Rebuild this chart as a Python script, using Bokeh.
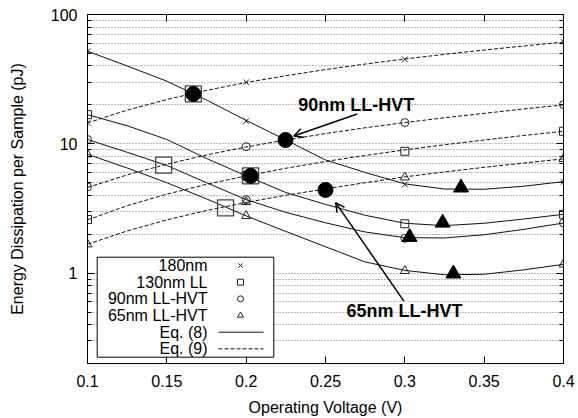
from math import log10
from bokeh.plotting import figure
from bokeh.models import (Range1d, FixedTicker, NumeralTickFormatter, LinearAxis,
                          LogAxis, Arrow, OpenHead)
from bokeh.core.properties import value
from bokeh.embed import file_html
from bokeh.resources import INLINE

# ---------------- data ----------------
x_ticks = [0.1, 0.15, 0.2, 0.25, 0.3, 0.35, 0.4]
y_ticks = [1, 10, 100]

# model curves: Eq. (8) solid, Eq. (9) dashed
curve_v = [0.1, 0.125, 0.15, 0.175, 0.2, 0.225, 0.25, 0.275, 0.3, 0.325, 0.35, 0.375, 0.4]
e180_eq8 = [52, 40, 30.5, 21.8, 15.2, 10.7, 7.5, 6.0, 4.9, 4.47, 4.45, 4.7, 5.1]
e180_eq9 = [14.5, 18.2, 22.0, 25.9, 29.8, 33.6, 37.5, 41.4, 45.3, 49.2, 53.1, 57.1, 61.2]
e130_eq8 = [16.8, 13.8, 10.8, 7.7, 5.65, 4.2, 3.4, 2.8, 2.43, 2.33, 2.43, 2.62, 2.85]
e130_eq9 = [2.58, 3.32, 4.08, 4.86, 5.65, 6.47, 7.3, 8.13, 8.97, 9.83, 10.7, 11.6, 12.5]
e90_eq8 = [10.8, 8.6, 6.8, 5.0, 3.7, 2.95, 2.45, 2.08, 1.88, 1.87, 1.98, 2.18, 2.44]
e90_eq9 = [4.6, 5.75, 6.95, 8.2, 9.45, 10.7, 12.0, 13.3, 14.6, 15.9, 17.2, 18.6, 20.0]
e65_eq8 = [8.3, 6.5, 5.0, 3.75, 2.77, 2.1, 1.6, 1.22, 1.05, 0.97, 0.98, 1.06, 1.17]
e65_eq9 = [1.67, 2.12, 2.58, 3.05, 3.52, 4.0, 4.48, 5.0, 5.55, 6.06, 6.58, 7.1, 7.65]

# simulated points
sim_v = [0.1, 0.2, 0.3, 0.4]
m180_eq8 = [52, 15.0, 4.85, 5.07]
m180_eq9 = [14.5, 29.9, 45, 61.4]
m130_eq8 = [16.8, 5.7, 2.41, 2.85]
m130_eq9 = [2.6, 5.65, 8.75, 12.5]
m90_eq8 = [10.8, 3.7, 1.86, 2.44]
m90_eq9 = [4.64, 9.5, 14.6, 20.1]
m65_eq8 = [8.3, 2.77, 1.04, 1.17]
m65_eq9 = [1.67, 3.55, 5.5, 7.65]

# highlighted points
big_sq_x = [0.1667, 0.148, 0.2028, 0.187]
big_sq_y = [24.3, 6.84, 5.65, 3.2]
big_dot_x = [0.1667, 0.2028, 0.2248, 0.25]
big_dot_y = [24.3, 5.65, 10.7, 4.4]
big_tri_x = [0.3354, 0.3238, 0.303, 0.3306]
big_tri_y = [4.58, 2.45, 1.90, 0.99]

# annotations
ann_text = ["90nm LL-HVT", "65nm LL-HVT"]
ann_x = [0.2694, 0.2998]
ann_y = [20.0, 0.507]
arr_x0 = [0.270, 0.2994]
arr_y0 = [17.0, 0.607]
arr_x1 = [0.230, 0.2564]
arr_y1 = [11.5, 3.51]

legend_labels = ["180nm", "130nm LL", "90nm LL-HVT", "65nm LL-HVT", "Eq. (8)", "Eq. (9)"]

# ---------------- figure ----------------
X0, X1 = 0.1, 0.4
Y0, Y1 = 0.2, 100
FONT = "Liberation Sans"
# frame position in page pixels (for placing the legend)
FL, FR, FT, FB = 87, 563, 14, 363


def xd(px):
    return X0 + (px - FL) / (FR - FL) * (X1 - X0)


def yd(py):
    return 10 ** (log10(Y0) + (FB - py) / (FB - FT) * (log10(Y1) - log10(Y0)))


p = figure(x_range=Range1d(X0, X1), y_range=Range1d(Y0, Y1), y_axis_type="log",
           frame_width=FR - FL, frame_height=FB - FT,
           min_border_left=FL, min_border_right=15, min_border_top=FT, min_border_bottom=50,
           output_backend="svg", toolbar_location=None, title=None)
p.background_fill_color = "white"
p.border_fill_color = "white"
p.outline_line_color = "black"
p.outline_line_width = 1

minor = [m * 10 ** e for e in (-1, 0, 1) for m in range(2, 10)]
minor = [t for t in minor if Y0 <= t <= Y1]
xt = FixedTicker(ticks=x_ticks, minor_ticks=[])
yt = FixedTicker(ticks=y_ticks, minor_ticks=minor)

xa = p.xaxis[0]
xa.ticker = xt
xa.formatter = NumeralTickFormatter(format="0.[00]")
xa.axis_label = "Operating Voltage (V)"
ya = p.yaxis[0]
ya.ticker = yt
ya.formatter = NumeralTickFormatter(format="0")
ya.axis_label = "Energy Dissipation per Sample (pJ)"

for ax in (xa, ya):
    ax.major_tick_in = 7
    ax.major_tick_out = 0
    ax.minor_tick_in = 4
    ax.minor_tick_out = 0
    ax.axis_line_color = "black"
    ax.major_tick_line_color = "black"
    ax.minor_tick_line_color = "black"
    ax.major_label_text_font = FONT
    ax.major_label_text_font_size = "16px"
    ax.major_label_text_color = "black"
    ax.axis_label_text_font = FONT
    ax.axis_label_text_font_size = "16px"
    ax.axis_label_text_font_style = "normal"
    ax.axis_label_text_color = "black"
xa.major_label_standoff = 11
xa.axis_label_standoff = 9
ya.major_label_standoff = 10
ya.axis_label_standoff = 22

top = LinearAxis(ticker=xt, major_tick_in=7, major_tick_out=0, minor_tick_in=0,
                 minor_tick_out=0, major_label_text_font_size="0px",
                 major_label_text_color=None, major_label_standoff=0,
                 axis_line_color="black")
right = LogAxis(ticker=yt, formatter=NumeralTickFormatter(format="0"),
                major_tick_in=7, major_tick_out=0, minor_tick_in=4,
                minor_tick_out=0, major_label_text_font_size="0px",
                major_label_text_color=None, major_label_standoff=0,
                axis_line_color="black")
p.add_layout(top, "above")
p.add_layout(right, "right")

p.xgrid.visible = False
p.ygrid.ticker = yt
p.ygrid.grid_line_color = "#777777"
p.ygrid.grid_line_dash = "1 2"
p.ygrid.grid_line_width = 1
p.ygrid.minor_grid_line_color = "#777777"
p.ygrid.minor_grid_line_dash = "1 2"
p.ygrid.minor_grid_line_width = 1

LINE_C = "#111111"
DASH = "4 2"

for eq8, eq9 in ((e180_eq8, e180_eq9), (e130_eq8, e130_eq9),
                 (e90_eq8, e90_eq9), (e65_eq8, e65_eq9)):
    p.line(curve_v, eq8, line_color=LINE_C, line_width=1)
    p.line(curve_v, eq9, line_color=LINE_C, line_width=1, line_dash=DASH)

markers = [("x", 8, m180_eq8, m180_eq9), ("square", 8, m130_eq8, m130_eq9),
           ("circle", 8, m90_eq8, m90_eq9), ("triangle", 9, m65_eq8, m65_eq9)]
for mk, sz, a, b in markers:
    p.scatter(sim_v, a, marker=mk, size=sz, fill_color=None, line_color="#222222", line_width=1)
    p.scatter(sim_v, b, marker=mk, size=sz, fill_color=None, line_color="#222222", line_width=1)

p.scatter(big_sq_x, big_sq_y, marker="square", size=16, fill_color=None,
          line_color="#444444", line_width=1.3)
p.scatter(big_dot_x, big_dot_y, marker="circle", size=15, fill_color="black", line_color="black")
p.scatter(big_tri_x, big_tri_y, marker="triangle", size=15, fill_color="black", line_color="black")

for i in range(len(ann_text)):
    p.add_layout(Arrow(end=OpenHead(size=9, line_width=1.5, line_color="black"),
                       x_start=arr_x0[i], y_start=arr_y0[i],
                       x_end=arr_x1[i], y_end=arr_y1[i],
                       line_width=1.5, line_color="black"))
p.text(x=ann_x, y=ann_y, text=ann_text, text_font=value(FONT), text_font_style="bold",
       text_font_size=value("18px"), text_align="center", text_baseline="middle",
       text_color="black")

# ---------------- legend (gnuplot style: label then sample) ----------------
rows = [265, 281.7, 298.3, 315, 331.7, 348.3]
p.quad(left=[xd(96.7)], right=[xd(273.3)], top=[yd(256.7)], bottom=[yd(356.7)],
       fill_color="white", line_color="black", line_width=1)
p.text(x=[xd(207)] * len(legend_labels), y=[yd(r) for r in rows], text=legend_labels,
       text_font=value(FONT), text_font_size=value("16px"), text_align="right",
       text_baseline="middle", text_color="black")
for (mk, sz, a, b), r in zip(markers, rows[:4]):
    p.scatter([xd(240)], [yd(r)], marker=mk, size=6, fill_color=None,
              line_color="#222222", line_width=1)
p.line([xd(218), xd(263)], [yd(rows[4])] * 2, line_color=LINE_C, line_width=1)
p.line([xd(218), xd(263)], [yd(rows[5])] * 2, line_color=LINE_C, line_width=1, line_dash=DASH)

open("out.html", "w").write(file_html(p, INLINE))
